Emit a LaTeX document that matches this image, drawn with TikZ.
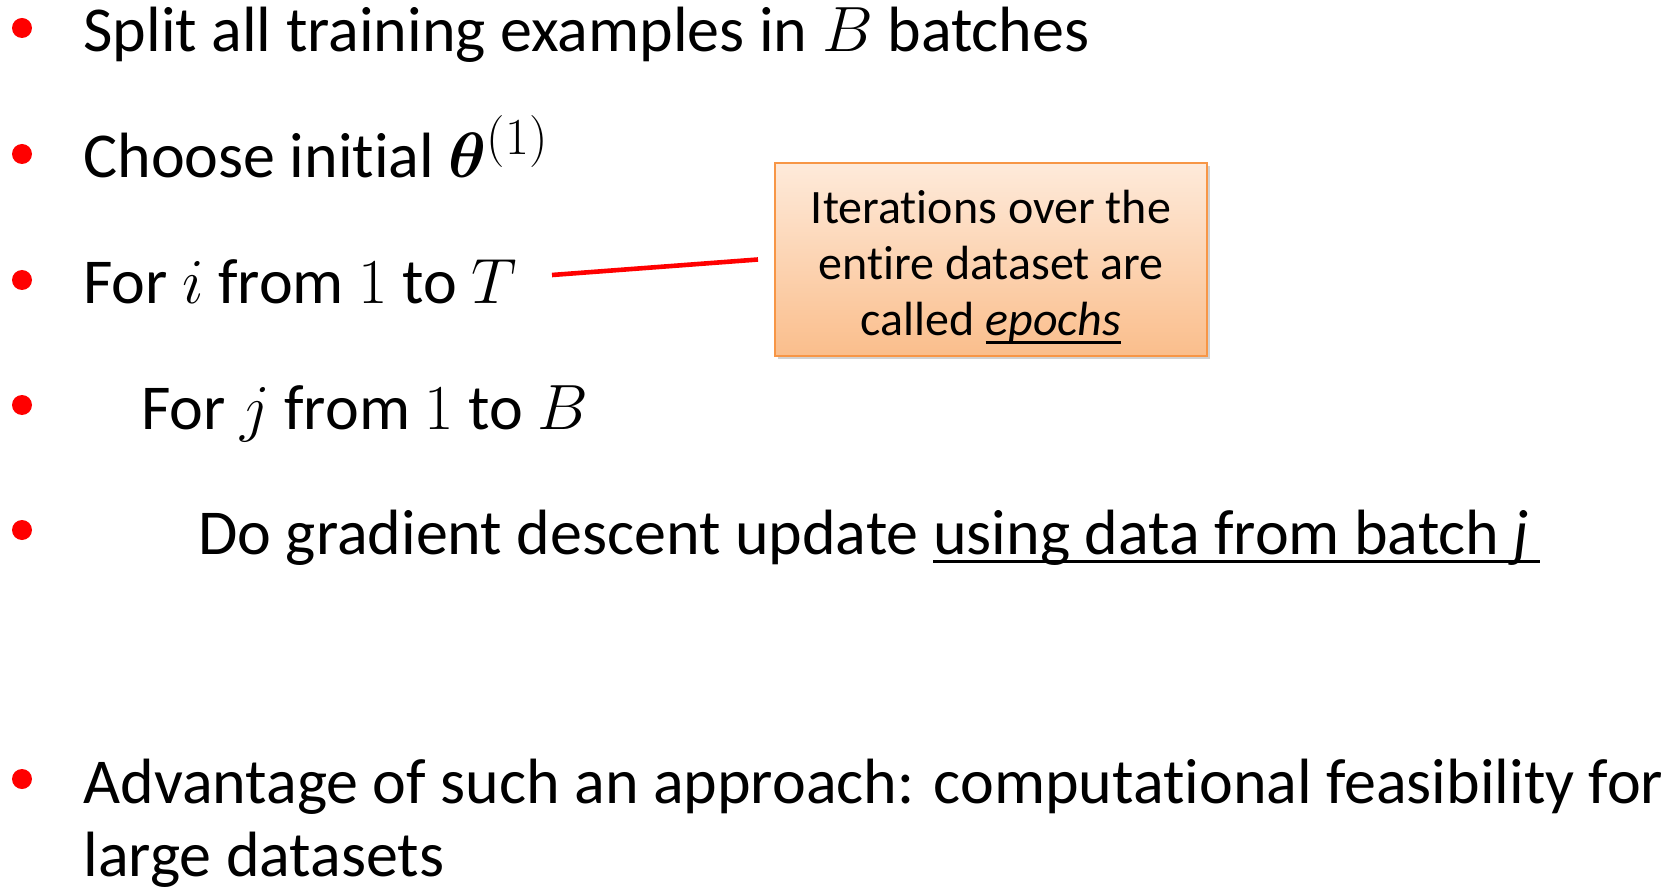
\documentclass[tikz,border=0pt]{standalone}
\usepackage{fix-cm}
\usepackage{amsmath,bm}
\usepackage{fontspec}
\setmainfont{Carlito}[Ligatures=NoCommon]
\usetikzlibrary{shadows}
\definecolor{calloutline}{RGB}{247,150,70}
\definecolor{callouttop}{RGB}{254,234,218}
\definecolor{calloutbottom}{RGB}{250,190,140}
% underline at a given depth below the baseline
\newcommand{\lowline}[2]{\leavevmode\setbox0\hbox{#2}\rlap{\rule[-#1]{\wd0}{1.5pt}}\box0}
\begin{document}
\begin{tikzpicture}[x=0.5pt, y=-0.5pt,
		bulletdot/.style={circle, fill=red, inner sep=0pt, minimum size=10pt},
		item/.style={anchor=base west, inner sep=0pt, font=\fontsize{32}{36}\selectfont},
		callout/.style={draw=calloutline, line width=1pt, top color=callouttop, bottom color=calloutbottom,
			minimum width=216pt, minimum height=96pt, drop shadow={shadow xshift=1.5pt, shadow yshift=-1.5pt, opacity=0.35}},
		calltext/.style={align=center, inner sep=0pt, font=\fontsize{24}{28}\selectfont},
		link/.style={red, line width=2.3pt}]
			\fill[white] (0,0) rectangle (1673,887);
			
			\foreach \name/\y in {d1/28, d2/154, d3/280, d4/405, d5/530, d6/779}
				\node[bulletdot] (\name) at (22,\y) {};
			
			\node[item] (split) at (83,52) {Split all training examples in $B$ batches};
			\node[item] (choose) at (83,178) {Choose initial $\bm{\theta}^{\mbox{\fontsize{26}{26}\selectfont$(1)$}}$};
			\node[item] (fori) at (83,304) {For $i$ from $1$ to $T$};
			\node[item] (forj) at (141,429) {For $j$ from $1$ to $B$};
			\node[item] (update) at (198,554) {Do gradient descent update \lowline{4.5pt}{using data from batch \textit{j}\,}};
			\node[item] (adv) at (83,803) {Advantage of such an approach: computational feasibility for};
			\node[item] (advb) at (83,876) {large datasets};
			
			\node[callout] (epochs) at (991,259.5) {};
			\node[calltext] (epochstext) at ([yshift=-4pt]epochs.center) {Iterations over the\\ entire dataset are\\ called \lowline{4.3pt}{\textit{epochs}}};
			
			\coordinate (tail) at (552,275);
			\coordinate (head) at ([xshift=-8pt]epochs.west);
			\draw [link] (tail) -- (head);
		\end{tikzpicture}
\end{document}
